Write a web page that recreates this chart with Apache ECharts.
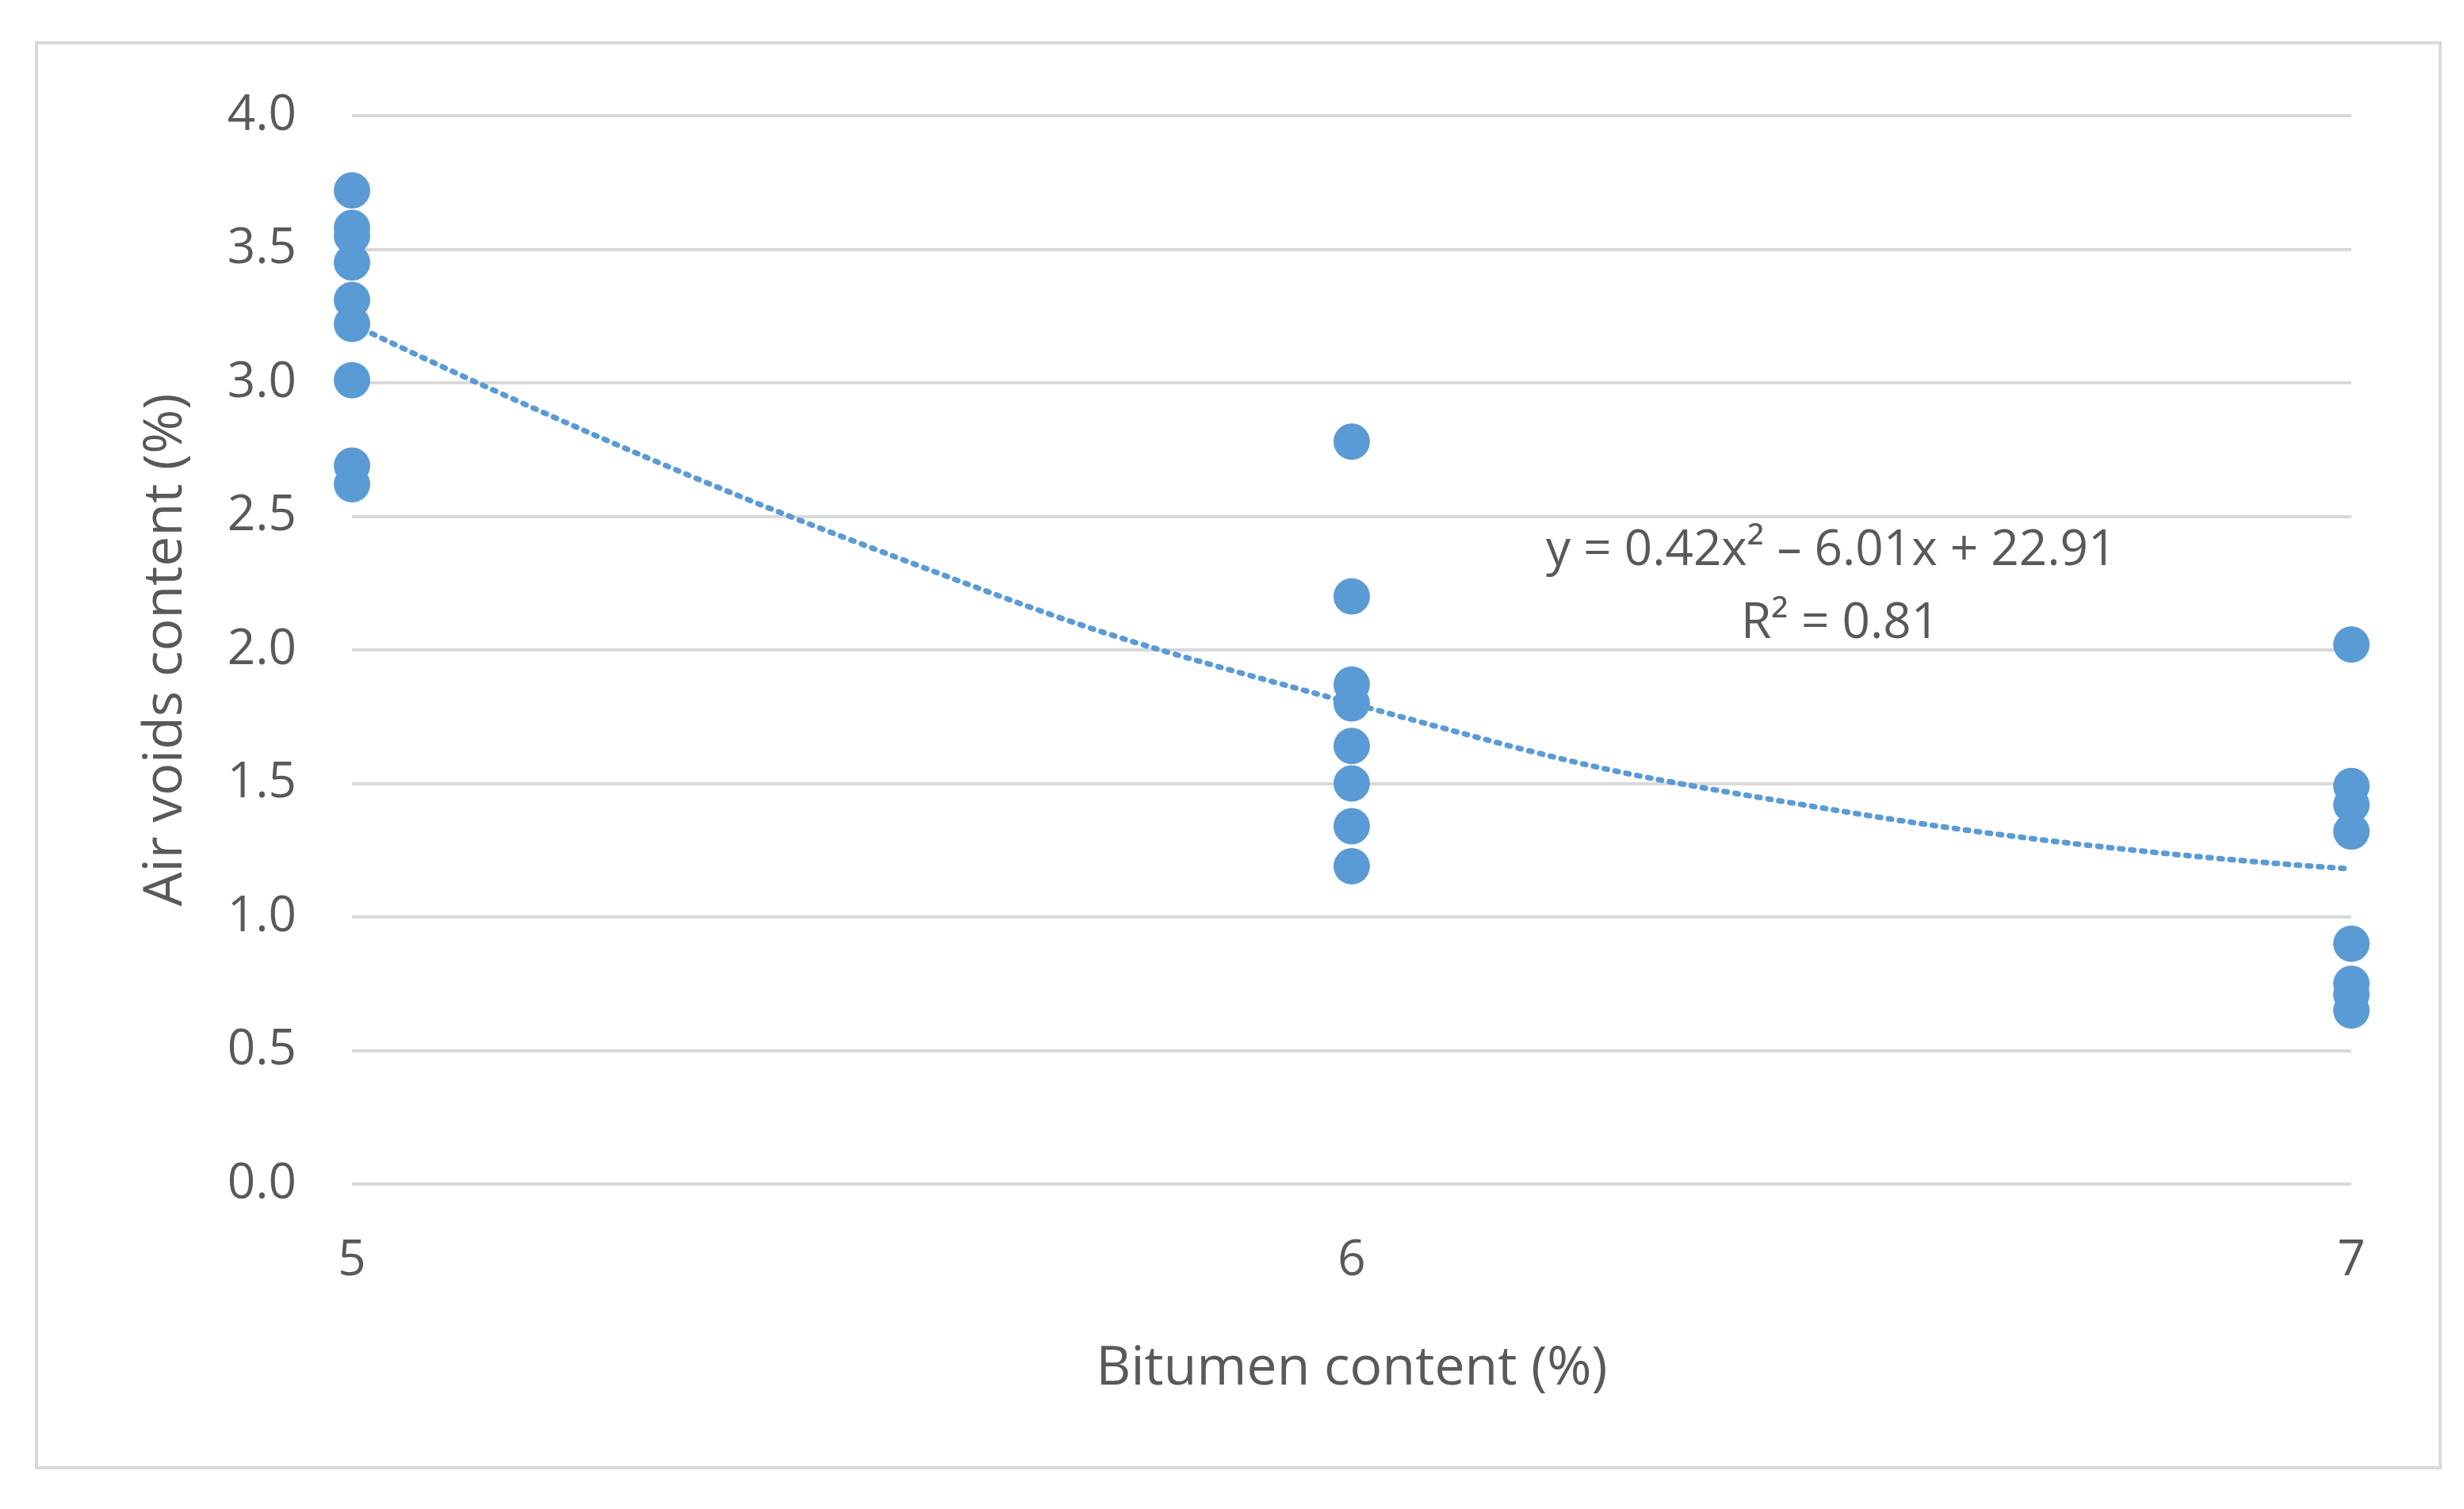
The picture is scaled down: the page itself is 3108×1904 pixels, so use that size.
<!DOCTYPE html>
<html>
<head>
<meta charset="utf-8">
<script src="https://cdn.jsdelivr.net/npm/echarts@6/dist/echarts.min.js"></script>
<style>html,body{margin:0;padding:0;background:#fff}#chart{width:3108px;height:1904px}</style>
</head>
<body>
<div id="chart"></div>
<script>
// 散点数据：沥青含量 / 空隙率
var bitumen = [5, 5, 5, 5, 5, 5, 5, 5, 5,
               6, 6, 6, 6, 6, 6, 6, 6,
               7, 7, 7, 7, 7, 7, 7, 7];
var airVoids = [3.72, 3.58, 3.55, 3.45, 3.31, 3.22, 3.01, 2.69, 2.62,
                2.78, 2.20, 1.87, 1.80, 1.64, 1.50, 1.34, 1.19,
                2.02, 1.49, 1.42, 1.32, 0.90, 0.75, 0.71, 0.65];
// 趋势线
var trendX = [5, 5.5, 6, 6.5, 7];
var trendY = [3.22, 2.41, 1.80, 1.39, 1.18];
var yTicks = ['0.0', '0.5', '1.0', '1.5', '2.0', '2.5', '3.0', '3.5', '4.0'];

var chart = echarts.init(document.getElementById('chart'));
var grey = '#595959';
var option = {
  animation: false,
  grid: { left: 444, right: 142, top: 146, bottom: 410 },
  graphic: [
    { type: 'rect', shape: { x: 46, y: 54, width: 3032, height: 1798 },
      style: { fill: 'none', stroke: '#d9d9d9', lineWidth: 4 } },
    { type: 'text', left: 1950, top: 664,
      style: { text: 'y = 0.42x² – 6.01x + 22.91', fill: grey, font: '62px "Open Sans"' } },
    { type: 'text', left: 2196, top: 756,
      style: { text: 'R² = 0.81', fill: grey, font: '62px "Open Sans"' } }
  ],
  xAxis: {
    type: 'value', min: 5, max: 7, interval: 1,
    name: 'Bitumen content (%)', nameLocation: 'middle', nameGap: 200,
    nameTextStyle: { color: grey, fontSize: 68, fontFamily: 'Open Sans' },
    axisLine: { show: false }, axisTick: { show: false }, splitLine: { show: false },
    axisLabel: { color: grey, fontSize: 62, fontFamily: 'Open Sans', margin: 66 }
  },
  yAxis: {
    type: 'value', min: 0, max: 4, interval: 0.5,
    name: 'Air voids content (%)', nameLocation: 'middle', nameGap: 200,
    nameTextStyle: { color: grey, fontSize: 68, fontFamily: 'Open Sans' },
    axisLine: { show: false }, axisTick: { show: false },
    splitLine: { lineStyle: { color: '#d9d9d9', width: 4 } },
    axisLabel: { color: grey, fontSize: 62, fontFamily: 'Open Sans', margin: 70,
      formatter: function (v) { return yTicks[Math.round(v * 2)]; } }
  },
  series: [{
    type: 'line', smooth: true, symbol: 'none',
    data: trendX.map(function (x, i) { return [x, trendY[i]]; }),
    lineStyle: { color: '#5B9BD5', width: 7, type: [4, 10], cap: 'round' }
  }, {
    type: 'scatter', symbolSize: 46,
    data: bitumen.map(function (x, i) { return [x, airVoids[i]]; }),
    itemStyle: { color: '#5B9BD5', opacity: 1 }
  }]
};
chart.setOption(option);
</script>
</body>
</html>
